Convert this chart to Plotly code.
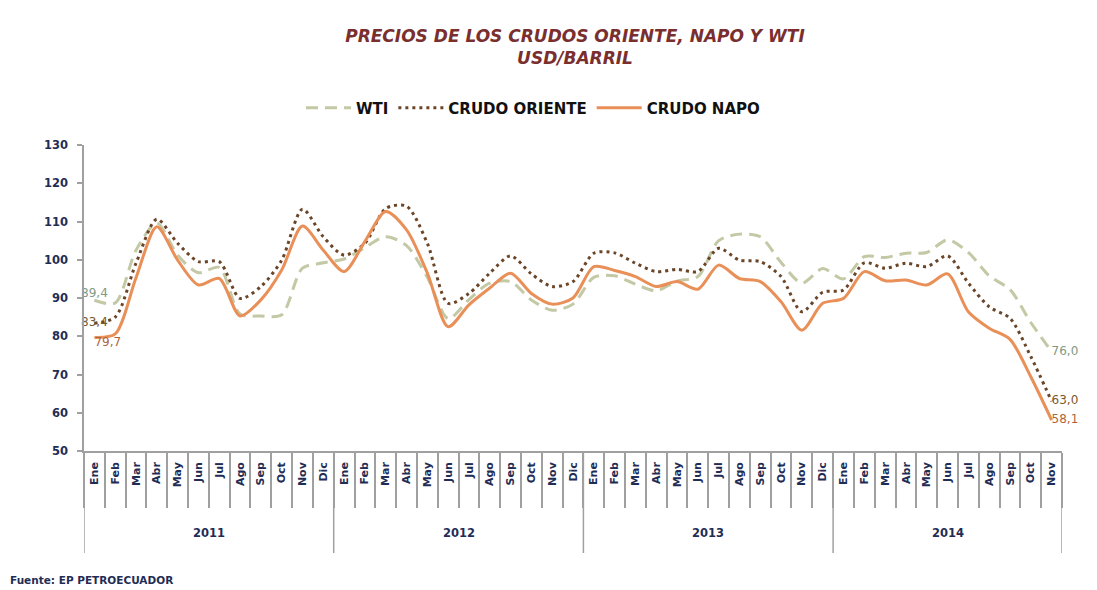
import plotly.graph_objects as go

year_names = ["2011", "2012", "2013", "2014"]
months_per_year = [12, 12, 12, 11]
month_names = ["Ene", "Feb", "Mar", "Abr", "May", "Jun", "Jul", "Ago", "Sep", "Oct", "Nov", "Dic"]
months = month_names * 3 + month_names[:11]

wti = [89.4, 88.7, 102.5, 109.6, 101.2, 96.6, 98.0, 85.8, 85.3, 85.6, 97.8, 99.2,
       100.2, 103.2, 106.0, 103.7, 95.4, 84.6, 89.6, 93.9, 94.3, 89.5, 86.8, 88.4,
       95.4, 95.8, 93.6, 91.9, 94.4, 95.6, 105.0, 106.7, 106.0, 99.3, 93.9, 97.7,
       95.0, 100.8, 100.6, 101.7, 101.9, 105.2, 101.9, 95.8, 92.2, 83.6, 76.0]
oriente = [83.4, 85.0, 99.1, 110.6, 104.3, 99.5, 99.5, 89.9, 93.0, 99.9, 113.2, 106.0,
           101.2, 104.3, 113.4, 114.0, 104.3, 88.6, 91.2, 96.5, 101.0, 96.3, 93.0, 94.3,
           101.7, 101.8, 99.1, 96.9, 97.5, 96.9, 103.0, 99.9, 99.5, 95.6, 86.4, 91.5,
           92.1, 99.2, 97.8, 99.1, 98.2, 101.0, 93.9, 87.7, 84.7, 74.7, 63.0]
napo = [79.7, 80.6, 95.3, 108.6, 99.9, 93.4, 95.1, 85.3, 89.5, 97.3, 108.8, 102.5,
        96.9, 104.8, 112.6, 107.8, 96.5, 82.5, 88.2, 92.6, 96.5, 91.2, 88.4, 90.0,
        98.2, 97.2, 95.6, 93.0, 94.3, 92.3, 98.6, 95.1, 94.3, 89.0, 81.6, 88.6,
        89.9, 96.9, 94.5, 94.7, 93.4, 96.3, 86.4, 82.1, 79.2, 69.4, 58.1]

FONT = "'DejaVu Sans', sans-serif"
NAVY = "#1F2D55"
GRAY = "#A0A0A0"

idx = list(range(len(months)))

# the page body has an 8px margin, so the figure is 16px smaller than the window
W, H = 1089, 582
ML, MT, PW, PH = 76, 137, 978, 306


def edge_labels(vals):
    t = [""] * len(vals)
    t[0] = f"{vals[0]:.1f}".replace(".", ",")
    t[-1] = f"{vals[-1]:.1f}".replace(".", ",")
    return t


def edge_pos(first):
    p = ["middle right"] * len(months)
    p[0] = first
    return p


fig = go.Figure()
fig.add_trace(go.Scatter(
    x=idx, y=wti, name="WTI", mode="lines+text",
    line=dict(color="#C3C8A5", width=3, dash="12px,7px", shape="spline", smoothing=0.8),
    text=edge_labels(wti), textposition=edge_pos("top center"),
    textfont=dict(family=FONT, size=12, color="#7E9A86"), cliponaxis=False,
))
fig.add_trace(go.Scatter(
    x=idx, y=oriente, name="CRUDO ORIENTE", mode="lines+text",
    line=dict(color="#6A4528", width=3, dash="3px,4px", shape="spline", smoothing=0.8),
    text=edge_labels(oriente), textposition=edge_pos("middle center"),
    textfont=dict(family=FONT, size=12, color="#7A5A2E"), cliponaxis=False,
))
fig.add_trace(go.Scatter(
    x=idx, y=napo, name="CRUDO NAPO", mode="lines+text",
    line=dict(color="#E98F58", width=3, shape="spline", smoothing=0.8),
    text=edge_labels(napo), textposition=edge_pos("bottom right"),
    textfont=dict(family=FONT, size=12, color="#B0643A"), cliponaxis=False,
))

fig.update_layout(
    width=W, height=H,
    paper_bgcolor="white", plot_bgcolor="white",
    margin=dict(l=ML, r=W - ML - PW, t=MT, b=H - MT - PH, autoexpand=False),
    font=dict(family=FONT, color=NAVY),
    title=dict(
        text="<b><i>PRECIOS DE LOS CRUDOS ORIENTE, NAPO Y WTI</i></b><br><b><i>USD/BARRIL</i></b>",
        x=567 / W, xanchor="center", y=1 - 33.5 / H, yanchor="middle",
        font=dict(family=FONT, size=17, color="#7A2F2F"),
    ),
    legend=dict(
        orientation="h", x=(525 - ML) / PW, xanchor="center", y=1 + 37 / PH, yanchor="middle",
        font=dict(family=FONT, size=15, color="#111111", weight="bold"),
        traceorder="normal", itemwidth=45,
    ),
    showlegend=True,
)
fig.update_yaxes(
    range=[50, 130], dtick=10, showgrid=False, zeroline=False,
    showline=True, linecolor=GRAY, linewidth=1.5,
    ticks="outside", ticklen=5, tickcolor=GRAY, tickwidth=1.5, ticklabelstandoff=7,
    tickfont=dict(family=FONT, size=11.5, color=NAVY, weight="bold"),
)
fig.update_xaxes(
    range=[-0.5, len(months) - 0.5], showgrid=False, zeroline=False,
    showline=True, linecolor=GRAY, linewidth=1.5,
    tickmode="array", tickvals=idx, ticktext=months, ticks="",
    tickangle=-90, ticklabelstandoff=5,
    tickfont=dict(family=FONT, size=11, color=NAVY, weight="bold"),
    minor=dict(tick0=-0.5, dtick=1, ticks="outside", ticklen=55,
               tickcolor=GRAY, tickwidth=1.5, showgrid=False),
)

# year groups below month labels
bounds = [-0.5]
for n in months_per_year:
    bounds.append(bounds[-1] + n)
for b in bounds:
    fig.add_shape(type="line", xref="x", yref="paper", x0=b, x1=b,
                  y0=0, y1=-102 / PH, line=dict(color=GRAY, width=1.5))
for name, a, b in zip(year_names, bounds[:-1], bounds[1:]):
    fig.add_annotation(text=f"<b>{name}</b>", xref="x", yref="paper",
                       x=(a + b) / 2, y=-82 / PH, yanchor="middle",
                       showarrow=False, font=dict(family=FONT, size=11.5, color=NAVY))

fig.add_annotation(
    text="<b>Fuente: EP PETROECUADOR</b>", xref="paper", yref="paper",
    x=-ML / PW, xanchor="left", y=-(572 - MT - PH) / PH, yanchor="middle",
    showarrow=False, font=dict(family=FONT, size=10.5, color=NAVY),
)
fig.write_html("out.html")
